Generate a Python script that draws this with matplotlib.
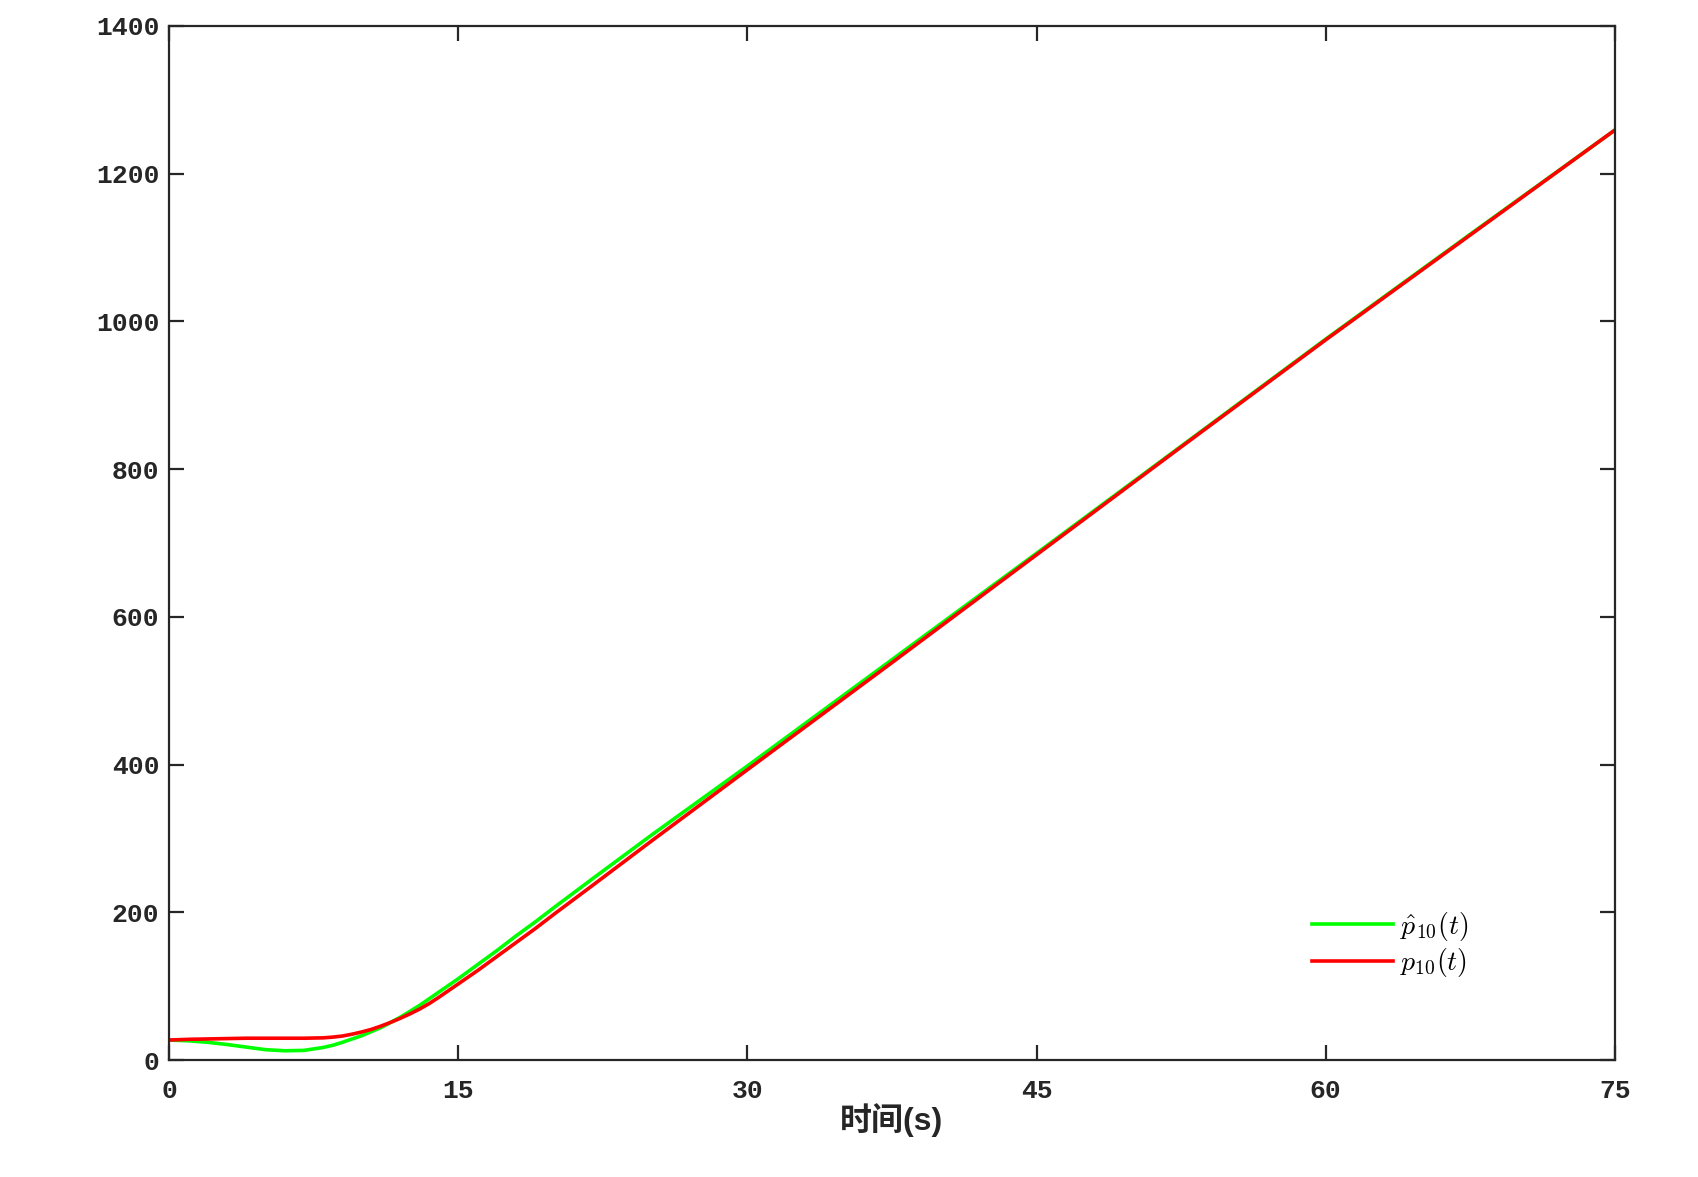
import matplotlib
matplotlib.use('Agg')
import matplotlib.pyplot as plt

plt.rcParams['mathtext.fontset'] = 'cm'

# time samples (s)
t = [0, 1, 2, 3, 4, 5, 6, 7, 8, 8.5, 9, 9.5, 10, 10.5, 11, 11.5, 12, 12.5, 13,
     13.5, 14, 15, 16, 17, 18, 19, 20, 22, 25, 30, 37.5, 45, 52.5, 60, 67.5, 75]

# estimated position p10(t)
p_est = [27, 26, 24, 21, 17.5, 14, 12.5, 13, 17, 20, 24, 28.5, 33, 38.5, 44, 51,
         58, 66, 74, 83, 92, 110, 129, 148, 168, 187, 207, 246, 304, 398, 542,
         686, 831, 976, 1118, 1259]
# actual position p10(t)
p_true = [27, 28, 28.5, 29, 29.5, 29.5, 29.5, 29.5, 30, 31, 32.5, 35, 38, 41.5,
          46, 51, 56.5, 62.5, 69, 76.5, 85, 103, 121, 140, 159, 178, 198, 237,
          296, 393, 538, 684, 830, 975, 1117, 1259]

xticks = [0, 15, 30, 45, 60, 75]
yticks = [0, 200, 400, 600, 800, 1000, 1200, 1400]

fig = plt.figure(figsize=(16.99, 11.77), dpi=100)
ax = fig.add_axes([0.0995, 0.0994, 0.851, 0.8786])

ax.plot(t, p_est, color='#00ff00', lw=2.6, label=r'$\hat{p}_{10}(t)$')
ax.plot(t, p_true, color='#ff0000', lw=2.6, label=r'$p_{10}(t)$')

ax.set_xlim(0, 75)
ax.set_ylim(0, 1400)
ax.set_xticks(xticks)
ax.set_yticks(yticks)

for s in ax.spines.values():
    s.set_linewidth(1.6)
    s.set_color('#262626')
ax.tick_params(direction='in', length=11, width=1.6, color='#262626',
               top=True, right=True, labelsize=19, pad=7)
ax.tick_params(axis='x', pad=14)
for lab in ax.get_xticklabels() + ax.get_yticklabels():
    lab.set_family('Liberation Mono')
    lab.set_fontweight('bold')
    lab.set_color('#262626')

ax.set_xlabel('时间(s)', family=['Liberation Sans', 'Noto Sans CJK SC'],
              fontweight='bold', fontsize=23, color='#262626', labelpad=0)

ax.legend(loc='center', bbox_to_anchor=(0.8445, 0.1115), frameon=False, fontsize=20,
          handlelength=2.9, handletextpad=0.25, labelspacing=0.12)

fig.savefig('out.png', dpi=100, facecolor='white')
